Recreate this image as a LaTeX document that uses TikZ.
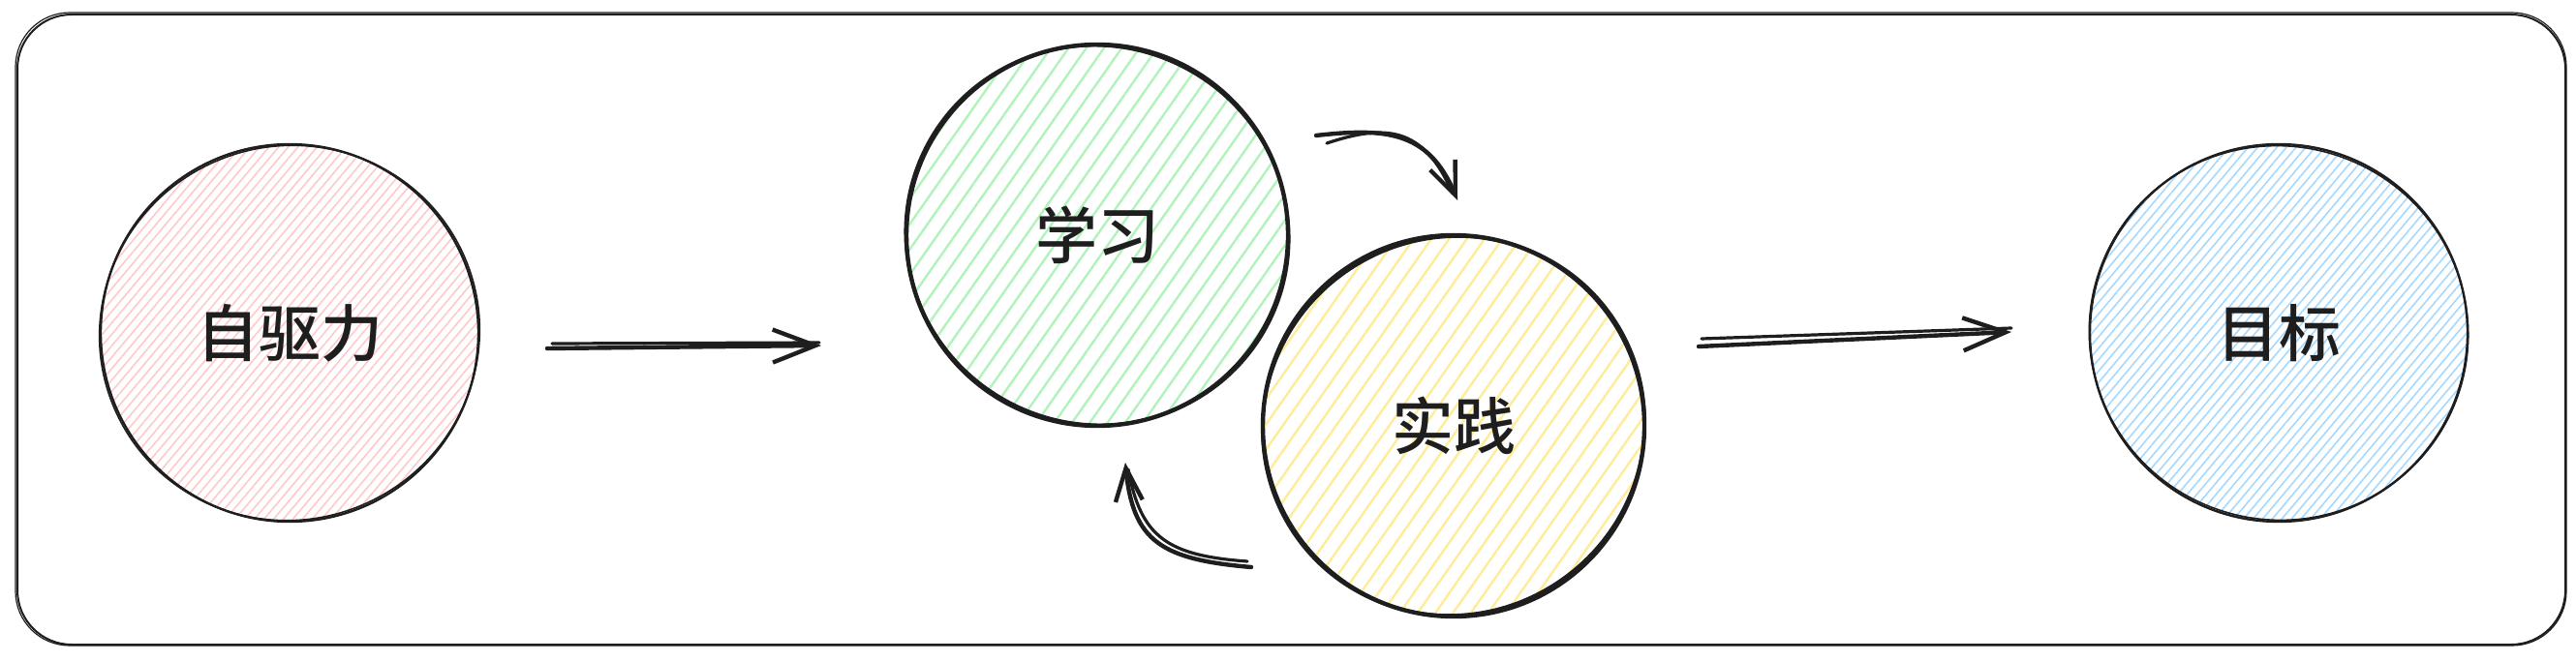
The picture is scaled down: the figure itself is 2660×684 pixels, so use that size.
\documentclass[tikz,border=0pt]{standalone}
\usepackage{fontspec}
\IfFontExistsTF{Noto Sans CJK SC Medium}
  {\newfontfamily\cjk{Noto Sans CJK SC Medium}\newcommand\cjkweight{}}
  {\newfontfamily\cjk{Noto Sans CJK SC}\newcommand\cjkweight{\bfseries}}
\usetikzlibrary{arrows.meta,patterns.meta}
\definecolor{inkc}{HTML}{1E1E1E}
\definecolor{pinkc}{HTML}{FFC9C9}
\definecolor{greenc}{HTML}{B2F2BB}
\definecolor{yellowc}{HTML}{FFEC99}
\definecolor{bluec}{HTML}{A5D8FF}
\tikzset{
  frame/.style={draw=inkc, line width=1pt, rounded corners=28pt},
  bubble/.style={circle, draw=inkc, minimum size=#1, inner sep=0pt,
    font=\cjk\cjkweight\fontsize{32}{38}\selectfont, text=inkc},
  finehatch/.style={pattern={Lines[angle=50,distance=3.8pt,line width=0.8pt]}, pattern color=#1},
  coarsehatch/.style={pattern={Lines[angle=55,distance=7.5pt,line width=1.2pt]}, pattern color=#1},
  sketch/.style={draw=inkc, line width=#1},
  conn/.style={draw=inkc, line width=2.2pt, line cap=round, line join=round,
    -{Straight Barb[length=22pt,width=17pt,line width=2.2pt]}},
  conncurve/.style={draw=inkc, line width=2.2pt, line cap=round, line join=round,
    -{Straight Barb[length=17pt,width=14pt,line width=2.2pt]}},
  echo/.style={draw=inkc, line width=1.6pt, line cap=round},
}
\begin{document}
\begin{tikzpicture}[x=0.5pt,y=-0.5pt]
\useasboundingbox (0,0) rectangle (2660,684);
% outer frame
\draw[frame] (18,15) rectangle (2649,666);
\draw[frame, line width=0.6pt] (16,13) rectangle (2650,667);

% circles
\node[bubble=195pt, line width=1.2pt, finehatch=pinkc] (zq) at (299,344) {自驱力};
\draw[sketch=0.8pt] (zq.center) ellipse [x radius=197, y radius=193, rotate=25];

\node[bubble=197pt, line width=2.2pt, coarsehatch=greenc] (xx) at (1133,243) {学习};
\draw[sketch=1.5pt] (xx.center) ellipse [x radius=199, y radius=195, rotate=-30];

\node[bubble=197pt, line width=2.2pt, coarsehatch=yellowc] (sj) at (1501,440) {实践};
\draw[sketch=1.5pt] (sj.center) ellipse [x radius=199, y radius=194, rotate=35];

\node[bubble=195pt, line width=1.2pt, finehatch=bluec] (mb) at (2353,344) {目标};
\draw[sketch=0.8pt] (mb.center) ellipse [x radius=196, y radius=193, rotate=-20];

% connector end points
\coordinate (a1s) at (565,360);
\coordinate (a1e) at (848,357);
\coordinate (a1t) at (570,355);
\coordinate (a1u) at (846,354);
\coordinate (a2s) at (1754,358);
\coordinate (a2e) at (2077,343);
\coordinate (a2t) at (1757,350);
\coordinate (a2u) at (2077,339);
\coordinate (a3s) at (1359,140);
\coordinate (a3e) at (1505,207);
\coordinate (a4s) at (1292,586);
\coordinate (a4e) at (1162,478);

% straight connectors
\draw[conn] (a1s) -- (a1e);
\draw[echo] (a1t) -- (a1u);
\draw[conn] (a2s) -- (a2e);
\draw[echo] (a2t) -- (a2u);

% curved connectors
\draw[conncurve] (a3s) .. controls (1430,132) and (1475,135) .. (a3e);
\draw[echo] (1370,148) .. controls (1430,128) and (1470,130) .. (1500,200);
\draw[conncurve] (a4s) .. controls (1200,578) and (1170,560) .. (a4e);
\draw[echo] (1288,580) .. controls (1205,574) and (1178,555) .. (1165,485);
\end{tikzpicture}
\end{document}
